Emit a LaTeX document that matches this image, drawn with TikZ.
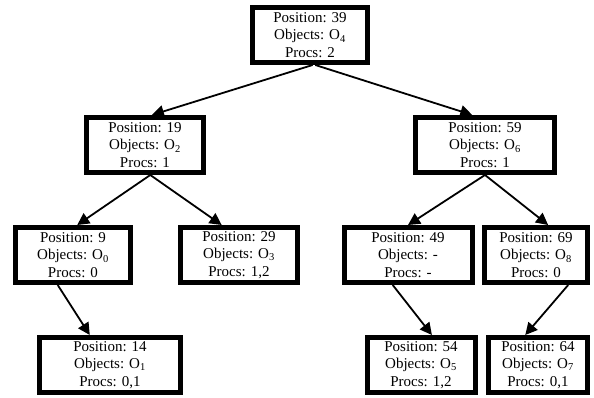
\documentclass[tikz,border=0pt]{standalone}
\usepackage{fontspec}
\setmainfont{Liberation Serif}
\usetikzlibrary{arrows.meta}

\begin{document}
\begin{tikzpicture}[->,>={Triangle[length=12pt,width=12pt]},line width=1.8pt,node distance=110pt,
	pos node/.style={rectangle,draw,line width=5pt,minimum height=55pt,align=center,inner sep=2pt,
	font=\fontsize{15}{17.5}\selectfont}]

	\useasboundingbox (-310pt,35pt) rectangle (284pt,-363pt);

	\node[pos node,minimum width=115pt] (39) {Position: 39\\Objects: O\textsubscript{4}\\Procs: 2};
	\node[pos node,minimum width=117pt] (19) [below of=39,xshift=-165pt] {Position: 19\\Objects: O\textsubscript{2}\\Procs: 1};
	\node[pos node,minimum width=139pt] (59) [below of=39,xshift=175pt] {Position: 59\\Objects: O\textsubscript{6}\\Procs: 1};
	\node[pos node,minimum width=115pt] (9) [below of=19,xshift=-72pt] {Position: 9\\Objects: O\textsubscript{0}\\Procs: 0};
	\node[pos node,minimum width=117pt] (29) [below of=19,xshift=94pt] {Position: 29\\Objects: O\textsubscript{3}\\Procs: 1,2};
	\node[pos node,minimum width=128pt] (49) [below of=59,xshift=-77pt] {Position: 49\\Objects: -\\Procs: -};
	\node[pos node,minimum width=103pt] (69) [below of=59,xshift=51pt] {Position: 69\\Objects: O\textsubscript{8}\\Procs: 0};
	\node[pos node,minimum width=141pt] (14) [below of=9,xshift=37pt] {Position: 14\\Objects: O\textsubscript{1}\\Procs: 0,1};
	\node[pos node,minimum width=108pt] (54) [below of=49,xshift=13pt] {Position: 54\\Objects: O\textsubscript{5}\\Procs: 1,2};
	\node[pos node,minimum width=99pt] (64) [below of=69,xshift=2pt] {Position: 64\\Objects: O\textsubscript{7}\\Procs: 0,1};

	\path
	(39.-85) edge (19.77)
	(39.-80) edge (59.113)
	(19.-80) edge (9.82)
	(19.-80) edge (29.120)
	(59.south) edge (49.north)
	(59.south) edge (69.68)
	(9.-117) edge (14.124)
	(49.-117) edge (54.70)
	(69.-43) edge (64.113)
;
\end{tikzpicture}
\end{document}
